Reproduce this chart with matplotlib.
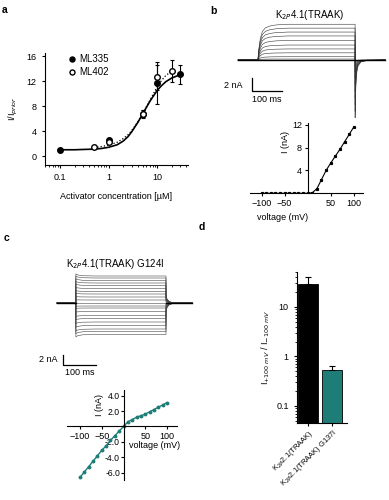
import numpy as np
import matplotlib.pyplot as plt
from matplotlib.lines import Line2D

plt.rcParams['font.family'] = ['Liberation Sans', 'DejaVu Sans']
plt.rcParams['font.size'] = 6.5
plt.rcParams['axes.linewidth'] = 0.8
plt.rcParams['xtick.major.width'] = 0.8
plt.rcParams['ytick.major.width'] = 0.8
plt.rcParams['xtick.major.size'] = 2.5
plt.rcParams['ytick.major.size'] = 2.5
plt.rcParams['xtick.minor.size'] = 1.5
plt.rcParams['ytick.minor.size'] = 1.5

# ---- panel a: dose response ----
ml335_conc = [0.1, 1, 5, 10, 30]
ml335_resp = [1.0, 2.5, 6.8, 11.7, 13.1]
ml335_err = [0.05, 0.2, 0.6, 3.4, 1.5]
ml402_conc = [0.5, 1, 5, 10, 20]
ml402_resp = [1.4, 2.3, 6.7, 12.6, 13.6]
ml402_err = [0.1, 0.2, 0.6, 2.0, 1.7]
fit335_conc = [0.1, 0.2, 0.3, 0.5, 0.7, 1, 1.5, 2, 2.5, 3, 4, 5, 6, 7, 8, 10, 12, 15, 20, 25, 30]
fit335_resp = [1.0, 1.0, 1.05, 1.1, 1.2, 1.4, 1.8, 2.4, 3.1, 3.9, 5.4, 6.7, 7.8, 8.7, 9.4, 10.5, 11.2, 11.9, 12.5, 12.8, 13.0]
fit402_conc = [0.5, 0.7, 1, 1.5, 2, 2.5, 3, 4, 5, 6, 7, 8, 10, 12, 15, 20]
fit402_resp = [1.35, 1.5, 1.75, 2.2, 2.8, 3.4, 4.1, 5.5, 6.8, 7.9, 8.9, 9.7, 11.1, 12.0, 12.9, 13.6]

# ---- panel b: TRAAK currents + IV ----
b_levels = [0] * 11 + [0.15, 0.5, 1.1, 1.7, 2.3, 3.0, 3.7, 4.3, 4.9, 5.5]
b_tails = [0] * 11 + [-0.3, -0.9, -1.8, -2.8, -3.8, -4.9, -5.9, -6.9, -7.9, -8.9]
b_act_t = [0, 3, 8, 15, 25, 40, 60, 100, 324]
b_act_f = [0, 0.3, 0.6, 0.8, 0.9, 0.95, 0.98, 1.0, 1.0]
b_tail_t = [0, 1, 3, 6, 10, 20, 40, 100]
b_tail_f = [1, 0.7, 0.4, 0.2, 0.1, 0.03, 0.01, 0]
b_volt = [-100, -90, -80, -70, -60, -50, -40, -30, -20, -10, 0, 10, 20, 30, 40, 50, 60, 70, 80, 90, 100]
b_curr = [0, 0, 0, 0, 0, 0, 0, 0, 0, 0, 0, 0.1, 0.8, 2.4, 4.0, 5.3, 6.5, 7.7, 9.0, 10.3, 11.6]

# ---- panel c: G124I currents + IV ----
c_levels = [5.4, 5.0, 4.5, 4.0, 3.5, 2.9, 2.3, 1.8, 1.2, 0.6, 0,
            -0.6, -1.0, -1.7, -2.5, -3.1, -3.8, -4.5, -5.2, -5.7, -6.3]
c_act_t = [0, 5, 20, 60, 273]
c_act_f = [1.08, 1.04, 1.01, 1.0, 1.0]
c_tail_t = [0, 3, 10, 26, 79]
c_tail_f = [0.3, 0.15, 0.05, 0.0, 0.0]
c_volt = [-100, -90, -80, -70, -60, -50, -40, -30, -20, -10, 0, 10, 20, 30, 40, 50, 60, 70, 80, 90, 100]
c_curr = [-6.6, -5.9, -5.2, -4.5, -3.8, -3.1, -2.5, -1.8, -1.2, -0.6, 0, 0.6, 0.9, 1.2, 1.4, 1.6, 1.9, 2.2, 2.5, 2.8, 3.1]

# ---- panel d: rectification ratio ----
d_labels = ['K$_{2P}$2.1(TRAAK)', 'K$_{2P}$2.1(TRAAK) G137I']
d_values = [29, 0.54]
d_err = [11, 0.09]
teal = '#1f7d78'

W, H = 389, 500


def box(x0, y0, x1, y1):
    return [x0 / W, 1 - y1 / H, (x1 - x0) / W, (y1 - y0) / H]


def ftext(x, y, s, **kw):
    fig.text(x / W, 1 - y / H, s, **kw)


fig = plt.figure(figsize=(W / 100, H / 100), dpi=100)

# panel a
ax = fig.add_axes(box(45, 53, 188, 165))
ax.set_xscale('log')
ax.plot(fit335_conc, fit335_resp, color='black', lw=1.2)
ax.plot(fit402_conc, fit402_resp, color='black', lw=0.9, ls=':')
ax.errorbar(ml335_conc, ml335_resp, yerr=ml335_err, fmt='o', color='black', ms=4.0,
            capsize=1.5, elinewidth=0.8, capthick=0.8)
ax.errorbar(ml402_conc, ml402_resp, yerr=ml402_err, fmt='o', color='black', mfc='white',
            ms=4.0, capsize=1.5, elinewidth=0.8, capthick=0.8)
ax.set_xlim(0.049, 43)
ax.set_ylim(-1.44, 16.5)
ax.set_yticks([0, 4, 8, 12, 16])
ax.set_xticks([0.1, 1, 10])
ax.set_xticklabels(['0.1', '1', '10'])
ax.spines['top'].set_visible(False)
ax.spines['right'].set_visible(False)
ax.set_xlabel('Activator concentration [µM]', labelpad=7)
ax.set_ylabel('I/I$_{prior}$', labelpad=5)
handles = [Line2D([], [], marker='o', ls='none', color='black', ms=3.6),
           Line2D([], [], marker='o', ls='none', color='black', mfc='white', ms=3.6)]
ax.legend(handles, ['ML335', 'ML402'], loc='upper left', bbox_to_anchor=(0.16, 0.99),
          frameon=False, handlelength=0.8, handletextpad=0.4, borderpad=0,
          borderaxespad=0, labelspacing=0.3, fontsize=7)

# panel b traces
axb = fig.add_axes(box(200, 0, 389, 130))
axb.axis('off')
t_pre, t_on, t_off, t_end = 127, 193, 517, 617
for lev, tail in zip(b_levels, b_tails):
    t = np.concatenate([[t_pre, t_on], t_on + np.array(b_act_t),
                        t_off + np.array(b_tail_t), [t_end]])
    i = np.concatenate([[0, 0], lev * np.array(b_act_f), tail * np.array(b_tail_f), [0]])
    axb.plot(t, i, color='#333333', lw=0.4)
axb.plot([t_pre, t_end], [0, 0], color='black', lw=1.0)
axb.set_xlim(0, 630)
axb.set_ylim(-10.77, 9.23)
axb.plot([173, 173, 273], [-2.77, -4.77, -4.77], color='black', lw=0.9)
axb.text(143, -3.85, '2 nA', ha='right', va='center', fontsize=6.5)
axb.text(223, -5.4, '100 ms', ha='center', va='top', fontsize=6.5)
ftext(310, 15, 'K$_{2P}$4.1(TRAAK)', ha='center', va='center', fontsize=7)

# panel b IV
axi = fig.add_axes(box(250, 123, 363, 193.3))
axi.plot(b_volt, b_curr, color='black', lw=0.8, marker='s', ms=1.3)
axi.set_xlim(-125, 120)
axi.set_ylim(0, 12.3)
axi.spines['left'].set_position(('data', 0))
axi.spines['top'].set_visible(False)
axi.spines['right'].set_visible(False)
axi.set_xticks([-100, -50, 50, 100])
axi.set_yticks([4, 8, 12])
axi.tick_params(labelsize=6.5, pad=1.5)
ftext(285, 142, 'I (nA)', rotation=90, ha='center', va='center', fontsize=6.5)
ftext(283, 218, 'voltage (mV)', ha='center', va='center', fontsize=6.5)

# panel c traces
axc = fig.add_axes(box(30, 255, 200, 380))
axc.axis('off')
tc_pre, tc_on, tc_off, tc_end = 82, 139, 412, 491
for lev in c_levels:
    t = np.concatenate([[tc_pre, tc_on], tc_on + np.array(c_act_t),
                        tc_off + np.array(c_tail_t)])
    i = np.concatenate([[0, 0], lev * np.array(c_act_f), lev * np.array(c_tail_f)])
    axc.plot(t, i, color='#444444', lw=0.4)
axc.plot([tc_pre, tc_on], [0, 0], color='black', lw=1.0)
axc.plot([tc_off, tc_end], [0, 0], color='black', lw=1.0)
axc.set_xlim(0, 515)
axc.set_ylim(-15.4, 9.6)
axc.plot([100, 100, 200], [-10.4, -12.4, -12.4], color='black', lw=0.9)
axc.text(82, -11.4, '2 nA', ha='right', va='center', fontsize=6.5)
axc.text(152, -13.0, '100 ms', ha='center', va='top', fontsize=6.5)
ftext(115, 264, 'K$_{2P}$4.1(TRAAK) G124I', ha='center', va='center', fontsize=7)

# panel c IV
axv = fig.add_axes(box(67, 390, 177, 480))
axv.plot(c_volt, c_curr, color=teal, lw=1.0, marker='o', ms=1.8)
axv.set_xlim(-130, 123)
axv.set_ylim(-6.95, 4.74)
axv.spines['left'].set_position(('data', 0))
axv.spines['bottom'].set_position(('data', 0))
axv.spines['top'].set_visible(False)
axv.spines['right'].set_visible(False)
axv.set_xticks([-100, -50, 50, 100])
axv.set_yticks([-6, -4, -2, 2, 4])
axv.set_yticklabels(['-6.0', '-4.0', '-2.0', '2.0', '4.0'])
axv.tick_params(axis='x', labelsize=6.5, pad=1.5)
axv.tick_params(axis='y', labelsize=6.2, pad=0.5, length=2)
ftext(100, 405, 'I (nA)', rotation=90, ha='center', va='center', fontsize=6.5)
ftext(155, 445, 'voltage (mV)', ha='center', va='center', fontsize=6.5)

# panel d
axd = fig.add_axes(box(297, 272, 347, 423))
axd.set_yscale('log')
axd.bar([0, 1], d_values, width=0.83, color=['black', teal], edgecolor='black', lw=0.6,
        yerr=[[0, 0], d_err], capsize=2, error_kw=dict(elinewidth=0.8, capthick=0.8))
axd.set_xlim(-0.46, 1.625)
axd.set_ylim(0.045, 51)
axd.set_yticks([0.1, 1, 10])
axd.set_yticklabels(['0.1', '1', '10'])
axd.set_xticks([0, 1])
axd.set_xticklabels(d_labels, rotation=45, ha='right', rotation_mode='anchor', fontsize=5.4)
axd.tick_params(axis='x', pad=1)
axd.spines['top'].set_visible(False)
axd.spines['right'].set_visible(False)
axd.tick_params(axis='y', labelsize=6.5)
axd.set_ylabel('I$_{+100\\ mV}$ / I$_{-100\\ mV}$', labelpad=3)

# panel letters
for x, y, s in [(5, 10, 'a'), (213, 11, 'b'), (7, 238, 'c'), (202, 227, 'd')]:
    ftext(x, y, s, ha='center', va='center', fontsize=7.5, fontweight='bold')

fig.savefig('out.png', dpi=100)
